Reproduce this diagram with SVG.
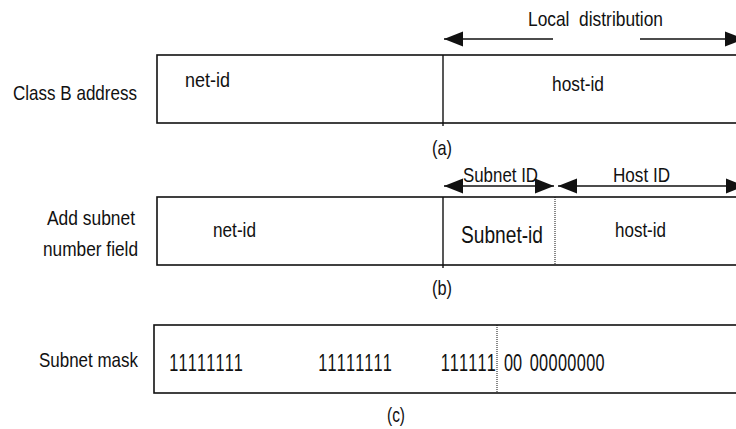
<svg xmlns="http://www.w3.org/2000/svg" width="736" height="429" viewBox="0 0 736 429">
  <style>
    .t { font-family: "Liberation Sans", Arial, sans-serif; font-size: 21px; fill: #111; }
    .big { font-size: 24px; }
    .ones { letter-spacing: 2px; }
    .zeros { letter-spacing: 0.5px; }
    .box { fill: #fff; stroke: #111; stroke-width: 1.6; }
    .div { stroke: #111; stroke-width: 1.4; fill: none; }
    .dot { stroke: #111; stroke-width: 1; stroke-dasharray: 1 1; fill: none; }
    .arr { stroke: #111; stroke-width: 1.5; fill: none; marker-end: url(#head); }
  </style>
  <defs>
    <marker id="head" markerUnits="userSpaceOnUse" markerWidth="19" markerHeight="16" refX="19" refY="7.5" orient="auto" overflow="visible">
      <path d="M0,0 L19,7.5 L0,15 Z" fill="#111"/>
    </marker>
  </defs>
  <rect width="736" height="429" fill="#fff"/>

  <!-- (a) Class B address -->
  <g id="class-b">
    <text class="t" x="13" y="100" textLength="124" lengthAdjust="spacingAndGlyphs">Class B address</text>
    <rect class="box" x="157" y="55" width="600" height="68"/>
    <line class="div" x1="443" y1="55" x2="443" y2="126"/>
    <text class="t" x="185" y="87" textLength="45" lengthAdjust="spacingAndGlyphs">net-id</text>
    <text class="t" x="552" y="91" textLength="52" lengthAdjust="spacingAndGlyphs">host-id</text>
    <text class="t" x="442" y="155" text-anchor="middle" textLength="20" lengthAdjust="spacingAndGlyphs">(a)</text>
  </g>

  <!-- (b) subnet number field -->
  <g id="subnetted">
    <text class="t" x="47" y="225" textLength="88" lengthAdjust="spacingAndGlyphs">Add subnet</text>
    <text class="t" x="43" y="256" textLength="95" lengthAdjust="spacingAndGlyphs">number field</text>
    <rect class="box" x="157" y="197" width="600" height="68"/>
    <line class="div" x1="443" y1="197" x2="443" y2="268"/>
    <line class="dot" x1="555" y1="197" x2="555" y2="265"/>
    <text class="t" x="213" y="237" textLength="43" lengthAdjust="spacingAndGlyphs">net-id</text>
    <text class="t big" x="461" y="243" textLength="82" lengthAdjust="spacingAndGlyphs">Subnet-id</text>
    <text class="t" x="615" y="237" textLength="51" lengthAdjust="spacingAndGlyphs">host-id</text>
    <text class="t" x="442" y="295" text-anchor="middle" textLength="20" lengthAdjust="spacingAndGlyphs">(b)</text>
  </g>

  <!-- (c) subnet mask -->
  <g id="mask">
    <text class="t" x="39" y="367" textLength="99" lengthAdjust="spacingAndGlyphs">Subnet mask</text>
    <rect class="box" x="154" y="325" width="600" height="68"/>
    <line class="dot" x1="497" y1="325" x2="497" y2="393"/>
    <!-- mask bits, condensed horizontally -->
    <g transform="scale(0.68,1)">
      <text class="t big ones" x="249" y="371">11111111</text>
      <text class="t big ones" x="468" y="371">11111111</text>
      <text class="t big ones" x="648" y="371">111111</text>
      <text class="t big" x="741" y="371">00</text>
      <text class="t big zeros" x="779" y="371">00000000</text>
    </g>
    <text class="t" x="396" y="422" text-anchor="middle" textLength="18" lengthAdjust="spacingAndGlyphs">(c)</text>
  </g>

  <!-- range labels -->
  <g id="labels">
    <text class="t" x="528" y="26" textLength="135" lengthAdjust="spacingAndGlyphs" xml:space="preserve">Local  distribution</text>
    <text class="t" x="463" y="182" textLength="75" lengthAdjust="spacingAndGlyphs">Subnet ID</text>
    <text class="t" x="613" y="182" textLength="57" lengthAdjust="spacingAndGlyphs">Host ID</text>
  </g>

  <!-- range arrows -->
  <g id="connectors">
    <line class="arr" x1="553" y1="39" x2="444" y2="39"/>
    <line class="arr" x1="640" y1="39" x2="744" y2="39"/>
    <line class="arr" x1="500" y1="186" x2="444" y2="186"/>
    <line class="arr" x1="500" y1="186" x2="554" y2="186"/>
    <line class="arr" x1="650" y1="186" x2="558" y2="186"/>
    <line class="arr" x1="650" y1="186" x2="745" y2="186"/>
  </g>
</svg>
